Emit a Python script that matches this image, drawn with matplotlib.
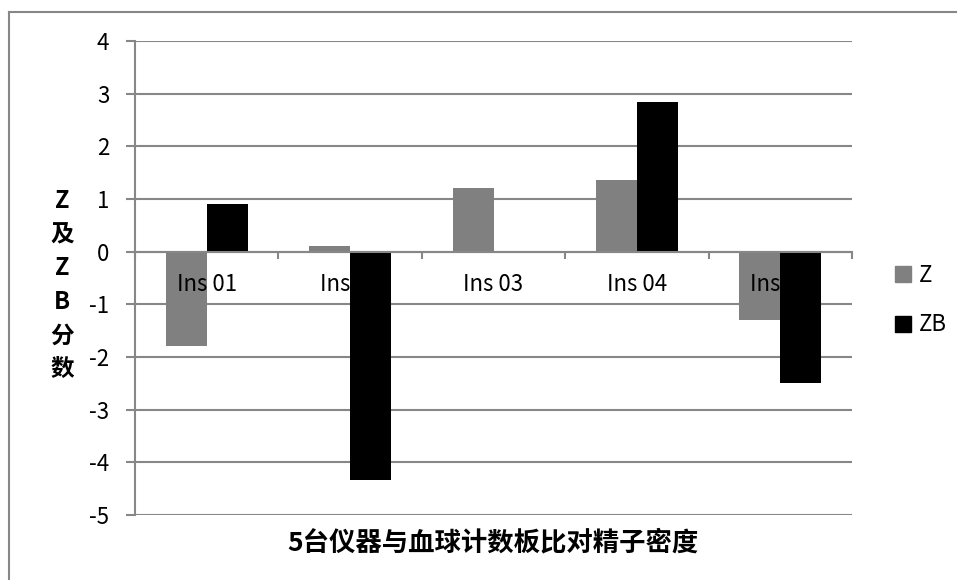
#!/usr/bin/env python3
"""
Z and ZB scores for 5 instruments vs. haemocytometer (sperm density)
"""

import matplotlib

matplotlib.use("Agg")
import matplotlib.pyplot as plt
import numpy as np
from matplotlib.lines import Line2D

plt.rcParams["font.family"] = ["Noto Sans CJK SC", "DejaVu Sans"]
plt.rcParams["axes.unicode_minus"] = False

instruments = ["Ins 01", "Ins 02", "Ins 03", "Ins 04", "Ins 05"]
z_scores = [-1.80, 0.11, 1.20, 1.37, -1.29]
zb_scores = [0.91, -4.33, 0.0, 2.85, -2.49]

GRID = "#878787"
W, H = 957, 580


def main():
    fig = plt.figure(figsize=(W / 100, H / 100), dpi=100)
    # plot area in pixel terms: x 135..852, y 41..515
    ax = fig.add_axes([135 / W, 1 - 515 / H, (852 - 135) / W, (515 - 41) / H])

    x = np.arange(len(instruments))
    bw = 1 / 3.5  # two bars per category, 150% gap
    ax.bar(x - bw / 2, z_scores, bw, color="#808080", zorder=2, label="Z")
    ax.bar(x + bw / 2, zb_scores, bw, color="#000000", zorder=2, label="ZB")

    ax.set_xlim(-0.5, len(instruments) - 0.5)
    ax.set_ylim(-5, 4)
    ax.set_yticks(range(-5, 5))
    ax.grid(axis="y", color=GRID, lw=1.5, zorder=0)
    ax.set_axisbelow(True)

    for side in ("top", "right"):
        ax.spines[side].set_visible(False)
    ax.spines["left"].set_color(GRID)
    ax.spines["left"].set_linewidth(1.5)
    ax.spines["bottom"].set_position(("data", 0))
    ax.spines["bottom"].set_color(GRID)
    ax.spines["bottom"].set_linewidth(1.5)

    ax.tick_params(axis="y", direction="out", length=6.5, width=1.5,
                   color=GRID, pad=12, labelsize=16)
    ax.set_xticks(np.arange(-0.5, len(instruments)))
    ax.tick_params(axis="x", direction="out", length=5, width=1.5,
                   color=GRID, labelbottom=False)

    # category names sit just under the zero line
    for i, name in enumerate(instruments):
        ax.annotate(name, (i, 0), xytext=(0, -24), textcoords="offset points",
                    ha="center", va="center", fontsize=16, zorder=3)

    handles = [
        Line2D([], [], ls="none", marker="s", ms=11, color="#808080"),
        Line2D([], [], ls="none", marker="s", ms=11, color="#000000"),
    ]
    fig.legend(handles, ["Z", "ZB"], loc="center left",
               bbox_to_anchor=(874 / W, 1 - 300 / H), frameon=False,
               fontsize=16, handlelength=0.8, handletextpad=0.3,
               labelspacing=1.2)

    fig.text(62 / W, 1 - 285 / H, "\n".join("Z及ZB分数"), ha="center",
             va="center", fontsize=17, fontweight="bold", linespacing=1.5)
    fig.text(493 / W, 1 - 543 / H, "5台仪器与血球计数板比对精子密度",
             ha="center", va="center", fontsize=19, fontweight="bold")

    # chart area border (only top and left edges fall inside the image)
    fig.add_artist(Line2D([9 / W, 1.01], [1 - 12 / H] * 2, color=GRID,
                          lw=1.5, transform=fig.transFigure))
    fig.add_artist(Line2D([9 / W] * 2, [1 - 12 / H, -0.01], color=GRID,
                          lw=1.5, transform=fig.transFigure))

    fig.savefig("out.png", dpi=100)


if __name__ == "__main__":
    main()
